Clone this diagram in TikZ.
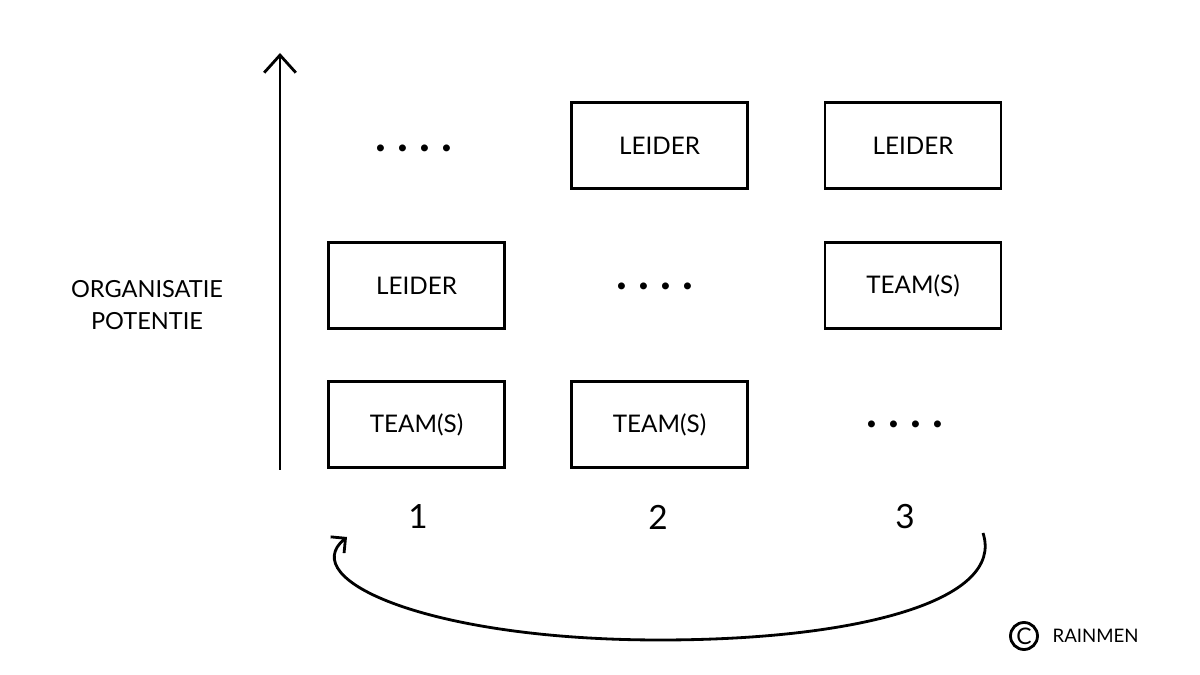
\documentclass[tikz,border=0pt]{standalone}
\usepackage{fontspec}
\setmainfont{Lato}
\usetikzlibrary{arrows.meta,positioning}
\tikzset{
  box/.style={draw,line width=0.85pt,minimum width=1.76cm,minimum height=0.86cm,inner sep=0pt,font=\fontsize{6.9}{9}\selectfont},
  dots/.style={inner sep=0pt,font=\fontsize{13}{13}\bfseries\selectfont},
  num/.style={inner sep=0pt,font=\fontsize{9.5}{10}\selectfont},
  lbl/.style={align=center,inner sep=0pt,font=\fontsize{6.7}{9.2}\selectfont},
  arr/.style={line width=0.8pt,-{Straight Barb[length=5pt,width=9pt,line width=0.8pt]}},
  loop/.style={line width=0.8pt,-{Straight Barb[length=3pt,width=6pt,line width=0.8pt]}}
}

\begin{document}
\begin{tikzpicture}
\useasboundingbox (0,0) rectangle (12,6.75);
% axis
\coordinate (axisbot) at (2.8,2.05);
\coordinate (axistop) at (2.8,6.22);
\draw[arr] (axisbot)--(axistop);
\node[lbl] (potentie) at (1.47,3.70) {ORGANISATIE\\POTENTIE};
% boxes
\foreach \n/\x/\y/\t in {t1/4.165/2.505/TEAM(S),l1/4.165/3.895/LEIDER,
  t2/6.595/2.505/TEAM(S),l2/6.595/5.295/LEIDER,
  t3/9.13/3.895/TEAM(S),l3/9.13/5.295/LEIDER} {
  \node[box] (\n) at (\x,\y) {\t};
}
\foreach \n/\x/\y in {d1/4.14/5.27,d2/6.55/3.89,d3/9.05/2.51} {
  \node[dots] (\n) at (\x,\y) {.\hspace{3.2pt}.\hspace{3.2pt}.\hspace{3.2pt}.};
}
\foreach \k/\x in {1/4.18,2/6.58,3/9.05} {
  \node[num] (n\k) at (\x,1.58) {\k};
}
% cycle back
\coordinate (loopstart) at (9.83,1.42);
\coordinate (loopbot) at (6.6,0.35);
\coordinate (loopend) at (3.47,1.38);
\draw[loop] (loopstart) .. controls (10.05,0.75) and (8.6,0.35) .. (loopbot)
  .. controls (4.3,0.35) and (2.95,0.95) .. (loopend);
% copyright
\node[draw,circle,line width=0.8pt,minimum size=0.27cm,inner sep=0pt,font=\fontsize{6.5}{7}\selectfont] (copy) at (10.24,0.39) {C};
\node[right=0.13cm of copy,inner sep=0pt,font=\fontsize{5.3}{7}\selectfont] (rainmen) {RAINMEN};
\end{tikzpicture}
\end{document}
